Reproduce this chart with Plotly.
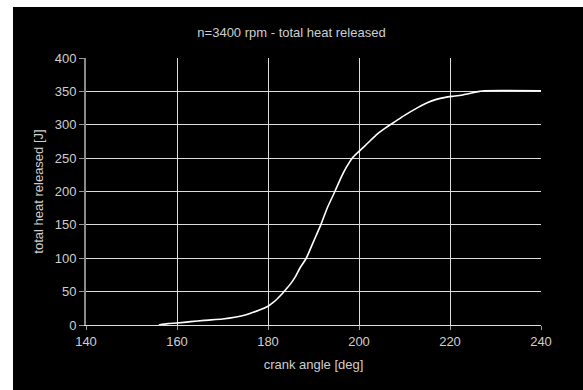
import plotly.graph_objects as go

crank_angle = [156, 158, 160, 163, 166, 170, 173, 175, 176.3, 178, 180, 181, 182, 183, 183.5,
               185, 186, 187, 188.4, 190, 191.6, 193, 194.7, 196, 197.2, 198.5, 200, 202, 204,
               206, 208, 210, 213, 215, 217, 219, 221, 223, 225, 226.5, 227.5, 240]
heat_released = [0, 2, 3, 5, 7, 9, 12, 15, 18, 22, 28, 33, 39, 46, 50,
                 62, 72, 85, 100, 125, 150, 175, 200, 220, 236, 250, 260, 273, 286,
                 296, 305, 314, 326, 333, 338, 341, 343, 345, 348, 350, 351, 351]

title_text = "n=3400 rpm - total heat released"
x_title = "crank angle [deg]"
y_title = "total heat released [J]"

L, R, T, B = 86, 42, 58, 65
W, H = 583, 390
pw, ph = W - L - R, H - T - B

fig = go.Figure()
fig.add_trace(go.Scatter(x=crank_angle, y=heat_released, mode="lines",
                         line=dict(color="white", width=1.6, shape="spline", smoothing=0.6),
                         showlegend=False))

fig.add_shape(type="rect", xref="paper", yref="paper", layer="below",
              x0=(13 - L) / pw, x1=(W - L) / pw,
              y0=(H - B - H) / ph, y1=(H - B - 7) / ph,
              fillcolor="black", line=dict(width=0))

font_col = "#cfcfcf"
fig.update_layout(
    width=W, height=H,
    margin=dict(l=L, r=R, t=T, b=B),
    paper_bgcolor="white", plot_bgcolor="black",
    font=dict(family="Liberation Sans, Arial", size=13, color=font_col),
    title=dict(text=title_text, x=0.5, xanchor="center", y=1 - 32 / H, yanchor="middle",
               font=dict(size=13, color=font_col)),
    xaxis=dict(range=[140, 240], dtick=20, tick0=140, showgrid=True, gridcolor="#dddddd",
               gridwidth=1, zeroline=False, showline=True, linecolor="#dddddd", linewidth=1,
               ticks="outside", ticklen=4, tickcolor="#999999", mirror=False,
               title=dict(text=x_title, font=dict(size=13, color=font_col), standoff=12),
               tickfont=dict(size=13, color=font_col)),
    yaxis=dict(range=[0, 400], dtick=50, showgrid=True, gridcolor="#dddddd", gridwidth=1,
               zeroline=False, showline=True, linecolor="#8a8a8a", linewidth=2,
               ticks="outside", ticklen=5, tickcolor="#999999",
               title=dict(text=y_title, font=dict(size=13, color=font_col), standoff=8),
               tickfont=dict(size=13, color=font_col)),
)

fig.write_html("out.html")
